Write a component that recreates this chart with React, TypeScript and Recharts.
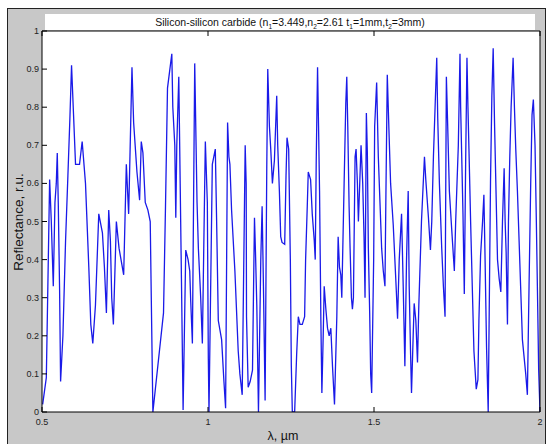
import { LineChart, Line, XAxis, YAxis } from "recharts";

// wavelength, µm
const WAVELENGTH = [
  0.502, 0.513, 0.523, 0.528, 0.534, 0.539, 0.543, 0.546, 0.549, 0.553, 0.556, 0.563,
  0.571, 0.578, 0.584, 0.589, 0.595, 0.601, 0.613, 0.621, 0.631, 0.641, 0.647, 0.653,
  0.661, 0.671, 0.682, 0.688, 0.694, 0.701, 0.706, 0.710, 0.715, 0.724, 0.732, 0.746,
  0.754, 0.761, 0.771, 0.776, 0.786, 0.794, 0.799, 0.804, 0.811, 0.819, 0.826, 0.829,
  0.834, 0.866, 0.872, 0.878, 0.891, 0.894, 0.900, 0.903, 0.906, 0.912, 0.920, 0.925,
  0.933, 0.940, 0.945, 0.948, 0.953, 0.960, 0.967, 0.971, 0.978, 0.983, 0.992, 0.998,
  1.001, 1.003, 1.013, 1.022, 1.026, 1.031, 1.041, 1.048, 1.053, 1.059, 1.063, 1.066,
  1.071, 1.081, 1.091, 1.096, 1.103, 1.112, 1.115, 1.116, 1.121, 1.127, 1.134, 1.140,
  1.143, 1.147, 1.152, 1.159, 1.163, 1.167, 1.172, 1.177, 1.180, 1.185, 1.189, 1.194,
  1.200, 1.207, 1.210, 1.215, 1.219, 1.223, 1.231, 1.235, 1.238, 1.243, 1.248, 1.251,
  1.254, 1.261, 1.267, 1.272, 1.277, 1.284, 1.291, 1.294, 1.299, 1.302, 1.309, 1.314,
  1.320, 1.323, 1.326, 1.330, 1.333, 1.336, 1.340, 1.343, 1.347, 1.350, 1.355, 1.360,
  1.365, 1.370, 1.375, 1.381, 1.388, 1.392, 1.396, 1.400, 1.403, 1.410, 1.415, 1.418,
  1.421, 1.425, 1.428, 1.432, 1.435, 1.438, 1.443, 1.446, 1.450, 1.453, 1.457, 1.461,
  1.466, 1.470, 1.473, 1.477, 1.480, 1.483, 1.487, 1.490, 1.493, 1.499, 1.502, 1.508,
  1.513, 1.518, 1.523, 1.528, 1.533, 1.536, 1.540, 1.545, 1.550, 1.558, 1.565, 1.571,
  1.576, 1.583, 1.588, 1.593, 1.598, 1.603, 1.606, 1.610, 1.613, 1.618, 1.621, 1.626,
  1.631, 1.635, 1.643, 1.652, 1.656, 1.664, 1.670, 1.674, 1.679, 1.684, 1.689, 1.692,
  1.697, 1.704, 1.709, 1.714, 1.718, 1.722, 1.727, 1.734, 1.742, 1.746, 1.754, 1.759,
  1.761, 1.764, 1.768, 1.772, 1.776, 1.780, 1.783, 1.786, 1.791, 1.796, 1.801, 1.808,
  1.813, 1.816, 1.821, 1.827, 1.831, 1.834, 1.839, 1.844, 1.847, 1.851, 1.855, 1.859,
  1.863, 1.867, 1.872, 1.877, 1.882, 1.887, 1.892, 1.895, 1.898, 1.902, 1.905, 1.909,
  1.913, 1.919, 1.923, 1.927, 1.932, 1.937, 1.942, 1.947, 1.957, 1.962, 1.967, 1.972,
  1.976, 1.980, 1.985, 1.989, 1.993, 1.996, 2.0,
];

// reflectance, r.u.
const REFLECTANCE = [
  0.02, 0.09, 0.61, 0.5, 0.33, 0.55, 0.6, 0.68, 0.55, 0.32, 0.08, 0.2,
  0.45, 0.62, 0.77, 0.91, 0.78, 0.65, 0.65, 0.71, 0.6, 0.38, 0.23, 0.18,
  0.28, 0.52, 0.47, 0.38, 0.26, 0.53, 0.45, 0.3, 0.23, 0.5, 0.43, 0.36,
  0.65, 0.52, 0.905, 0.76, 0.63, 0.556, 0.71, 0.68, 0.55, 0.53, 0.5, 0.31,
  0.0, 0.26, 0.54, 0.85, 0.94, 0.8, 0.7, 0.51, 0.7, 0.88, 0.35, 0.005,
  0.425, 0.4, 0.37, 0.29, 0.18, 0.915, 0.55, 0.43, 0.3, 0.18, 0.71, 0.55,
  0.14, 0.0, 0.65, 0.69, 0.5, 0.24, 0.19, 0.08, 0.01, 0.76, 0.67, 0.65,
  0.53, 0.37, 0.16, 0.1, 0.045, 0.7, 0.6, 0.25, 0.065, 0.08, 0.11, 0.51,
  0.42, 0.28, 0.0, 0.4, 0.54, 0.33, 0.03, 0.64, 0.9, 0.75, 0.69, 0.6,
  0.66, 0.83, 0.7, 0.58, 0.46, 0.445, 0.44, 0.62, 0.72, 0.69, 0.4, 0.12,
  0.0, 0.0, 0.15, 0.25, 0.23, 0.23, 0.25, 0.4, 0.54, 0.63, 0.61, 0.52,
  0.45, 0.4, 0.66, 0.905, 0.75, 0.58, 0.24, 0.05, 0.2, 0.33, 0.27, 0.22,
  0.2, 0.22, 0.12, 0.02, 0.25, 0.46, 0.38, 0.36, 0.3, 0.6, 0.81, 0.88,
  0.75, 0.54, 0.43, 0.3, 0.27, 0.3, 0.67, 0.69, 0.6, 0.5, 0.6, 0.7,
  0.6, 0.46, 0.3, 0.785, 0.68, 0.43, 0.26, 0.1, 0.05, 0.4, 0.75, 0.865,
  0.67, 0.55, 0.43, 0.37, 0.33, 0.58, 0.885, 0.74, 0.6, 0.49, 0.36, 0.245,
  0.4, 0.52, 0.33, 0.12, 0.4, 0.58, 0.33, 0.16, 0.05, 0.2, 0.285, 0.24,
  0.13, 0.28, 0.5, 0.67, 0.61, 0.51, 0.425, 0.5, 0.67, 0.8, 0.93, 0.77,
  0.6, 0.43, 0.33, 0.25, 0.88, 0.75, 0.58, 0.48, 0.37, 0.5, 0.7, 0.94,
  0.8, 0.68, 0.52, 0.31, 0.65, 0.93, 0.8, 0.69, 0.5, 0.33, 0.16, 0.06,
  0.085, 0.24, 0.41, 0.5, 0.57, 0.43, 0.17, 0.0, 0.26, 0.61, 0.83, 0.955,
  0.76, 0.6, 0.4, 0.35, 0.315, 0.5, 0.64, 0.5, 0.42, 0.23, 0.5, 0.67,
  0.8, 0.93, 0.8, 0.69, 0.58, 0.45, 0.32, 0.19, 0.1, 0.045, 0.33, 0.6,
  0.78, 0.82, 0.7, 0.5, 0.28, 0.11, 0.0,
];

const X_TICKS = [0.5, 1, 1.5, 2];
const Y_TICKS = [0, 0.1, 0.2, 0.3, 0.4, 0.5, 0.6, 0.7, 0.8, 0.9, 1];

const data = WAVELENGTH.map((w, i) => ({ w, r: REFLECTANCE[i] }));

// axes box (matlab style)
const LEFT = 42;
const TOP = 31;
const RIGHT = 540;
const BOTTOM = 412;
const TICK = 5;
const FONT = "'Liberation Sans', Arial, sans-serif";

const fmt = (v: number) => String(Number(v.toFixed(1)));

const BottomTick = ({ x, payload }: any) => (
  <g>
    <line x1={x} x2={x} y1={BOTTOM} y2={BOTTOM - TICK} stroke="#000" />
    <text x={x} y={BOTTOM + 13} textAnchor="middle" fontSize={9} fill="#222" fontFamily={FONT}>
      {fmt(payload.value)}
    </text>
  </g>
);

const TopTick = ({ x }: any) => (
  <line x1={x} x2={x} y1={TOP} y2={TOP + TICK} stroke="#000" />
);

const LeftTick = ({ y, payload }: any) => (
  <g>
    <line x1={LEFT} x2={LEFT + TICK} y1={y} y2={y} stroke="#000" />
    <text x={LEFT - 3} y={y + 3} textAnchor="end" fontSize={9} fill="#222" fontFamily={FONT}>
      {fmt(payload.value)}
    </text>
  </g>
);

const RightTick = ({ y }: any) => (
  <line x1={RIGHT} x2={RIGHT - TICK} y1={y} y2={y} stroke="#000" />
);

export default function App() {
  return (
    <div style={{ position: "absolute", left: 0, top: 0, width: 546, height: 444, background: "#fff", overflow: "hidden" }}>
      {/* figure background */}
      <div
        style={{
          position: "absolute", left: 7, top: 8, width: 539, height: 440,
          background: "#c8c8c8", borderLeft: "1px solid #222", borderTop: "1px solid #222",
          borderRight: "1px solid #222", boxSizing: "border-box",
        }}
      />
      {/* axes background */}
      <div style={{ position: "absolute", left: LEFT, top: TOP, width: RIGHT - LEFT, height: BOTTOM - TOP, background: "#fff" }} />
      {/* title box */}
      <div
        style={{
          position: "absolute", left: 45, top: 14, width: 490, height: 16, background: "#fff",
          fontFamily: FONT, fontSize: 10.5, lineHeight: "16px", textAlign: "center", color: "#111",
        }}
      >
        Silicon-silicon carbide (n<sub style={{ fontSize: 6.5 }}>1</sub>=3.449,n<sub style={{ fontSize: 6.5 }}>2</sub>=2.61 t
        <sub style={{ fontSize: 6.5 }}>1</sub>=1mm,t<sub style={{ fontSize: 6.5 }}>2</sub>=3mm)
      </div>
      {/* axis labels */}
      <div style={{ position: "absolute", left: 0, width: 566, top: 429, textAlign: "center", fontFamily: FONT, fontSize: 12.5, color: "#111" }}>
        λ, µm
      </div>
      <div
        style={{
          position: "absolute", left: 18, top: 222, width: 0, height: 0, fontFamily: FONT, fontSize: 13.5, color: "#111",
        }}
      >
        <div style={{ position: "absolute", transform: "translate(-50%, -50%) rotate(-90deg)", whiteSpace: "nowrap" }}>
          Reflectance, r.u.
        </div>
      </div>

      <div style={{ position: "absolute", left: 0, top: 0 }}>
        <LineChart width={546} height={444} data={data} margin={{ top: TOP - 1, right: 546 - RIGHT - 1, bottom: 444 - BOTTOM - 20, left: 7 }}>
          <XAxis
            xAxisId="b"
            dataKey="w"
            type="number"
            domain={[0.5, 2]}
            ticks={X_TICKS}
            height={20}
            tickLine={false}
            tick={<BottomTick />}
            axisLine={{ stroke: "#000" }}
            allowDataOverflow
          />
          <XAxis
            xAxisId="t"
            orientation="top"
            dataKey="w"
            type="number"
            domain={[0.5, 2]}
            ticks={X_TICKS}
            height={1}
            tickLine={false}
            tick={<TopTick />}
            axisLine={{ stroke: "#000" }}
          />
          <YAxis
            yAxisId="l"
            type="number"
            domain={[0, 1]}
            ticks={Y_TICKS}
            width={LEFT - 7}
            tickLine={false}
            tick={<LeftTick />}
            axisLine={{ stroke: "#000" }}
            allowDataOverflow
          />
          <YAxis
            yAxisId="r"
            orientation="right"
            type="number"
            domain={[0, 1]}
            ticks={Y_TICKS}
            width={1}
            tickLine={false}
            tick={<RightTick />}
            axisLine={{ stroke: "#000" }}
          />
          <Line
            xAxisId="b"
            yAxisId="l"
            type="linear"
            dataKey="r"
            stroke="#1a1ae8"
            strokeWidth={1.3}
            dot={false}
            isAnimationActive={false}
          />
        </LineChart>
      </div>
    </div>
  );
}
